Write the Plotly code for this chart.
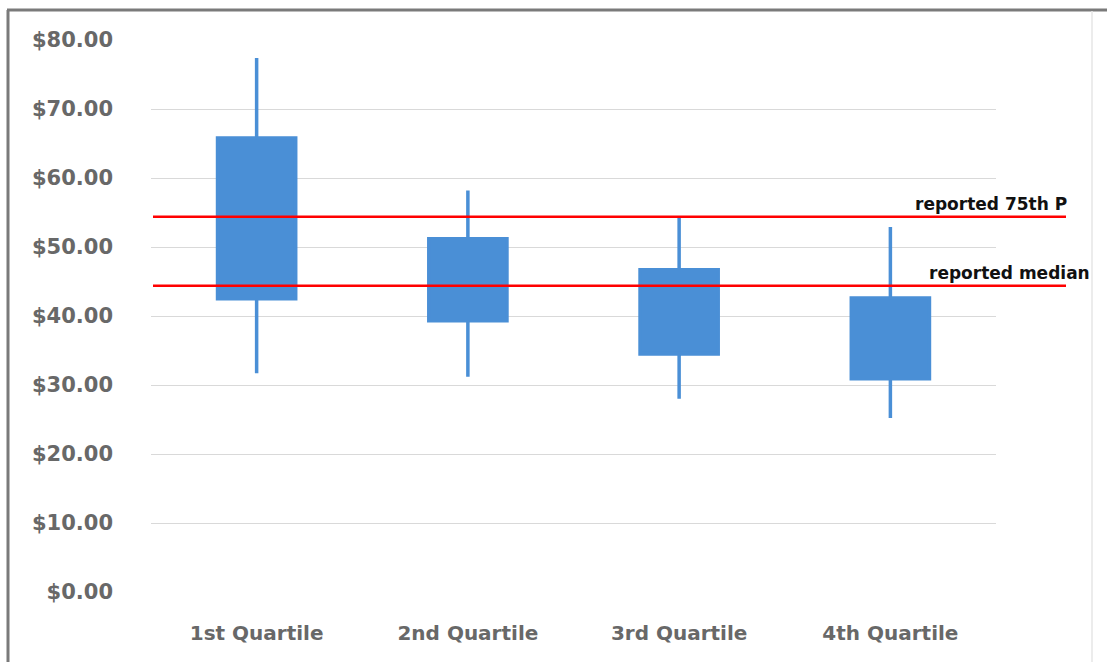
import plotly.graph_objects as go

# Price distribution per quartile group
categories = ["1st Quartile", "2nd Quartile", "3rd Quartile", "4th Quartile"]
low_values = [31.7, 31.2, 28.0, 25.2]
q1_values = [42.5, 39.3, 34.5, 30.9]
q3_values = [65.8, 51.2, 46.7, 42.6]
high_values = [77.4, 58.2, 54.4, 52.9]

# Reported reference levels
reference_labels = ["reported 75th P", "reported median"]
reference_values = [54.4, 44.4]

# Y axis ticks
tick_values = [0, 10, 20, 30, 40, 50, 60, 70, 80]
tick_labels = ["$%.2f" % v for v in tick_values]

BLUE = "#4a8fd6"
LABEL_FONT = "DejaVu Sans"
TICK_COLOR = "#686868"
W, H = 1107, 662
M_L, M_R, M_T, M_B = 151, 111, 40, 70
PW, PH = W - M_L - M_R, H - M_T - M_B


def px_x(px):
    return (px - M_L) / PW


def px_y(py):
    return (H - M_B - py) / PH


fig = go.Figure()

fig.add_trace(go.Box(
    x=categories,
    q1=q1_values,
    median=q1_values,
    q3=q3_values,
    lowerfence=low_values,
    upperfence=high_values,
    width=0.37,
    whiskerwidth=0,
    fillcolor=BLUE,
    line=dict(color=BLUE, width=3.5),
    boxpoints=False,
    hoverinfo="skip",
    showlegend=False,
))

# Red reference lines with their labels
for label, val in zip(reference_labels, reference_values):
    fig.add_shape(type="line", xref="paper", yref="y",
                  x0=px_x(153), x1=px_x(1066), y0=val, y1=val,
                  line=dict(color="#ff0000", width=2.5), layer="above")
reference_text_x = [1069, 1092]
for label, val, tx in zip(reference_labels, reference_values, reference_text_x):
    fig.add_annotation(x=px_x(tx), xref="paper", y=val, yref="y",
                       text="<b>%s</b>" % label, showarrow=False,
                       xanchor="right", yanchor="bottom", yshift=1,
                       font=dict(family=LABEL_FONT, size=17, color="#111111"))

# Outer frame
fig.add_shape(type="line", xref="paper", yref="paper",
              x0=px_x(7), x1=px_x(1107), y0=px_y(10), y1=px_y(10),
              line=dict(color="#7a7a7a", width=3))
fig.add_shape(type="line", xref="paper", yref="paper",
              x0=px_x(8), x1=px_x(8), y0=px_y(10), y1=px_y(662),
              line=dict(color="#7a7a7a", width=3))
fig.add_shape(type="line", xref="paper", yref="paper",
              x0=px_x(1092), x1=px_x(1092), y0=px_y(11), y1=px_y(662),
              line=dict(color="#e6e6e6", width=1.5))

fig.update_layout(
    width=W, height=H, autosize=False,
    margin=dict(l=M_L, r=M_R, t=M_T, b=M_B, pad=0),
    paper_bgcolor="white", plot_bgcolor="white",
    font=dict(family=LABEL_FONT, color=TICK_COLOR),
    xaxis=dict(
        type="category", range=[-0.5, 3.5],
        showgrid=False, showline=False, zeroline=False, ticks="",
        tickfont=dict(size=20, color=TICK_COLOR, family=LABEL_FONT, weight="bold"),
        ticklabelstandoff=27,
    ),
    yaxis=dict(
        range=[0, 80], tickvals=tick_values, ticktext=tick_labels,
        showgrid=True, gridcolor="#d9d9d9", gridwidth=1,
        zeroline=False, showline=False, ticks="",
        tickfont=dict(size=21, color=TICK_COLOR, family=LABEL_FONT, weight="bold"),
        ticklabelstandoff=37,
    ),
)

fig.write_html("out.html")
